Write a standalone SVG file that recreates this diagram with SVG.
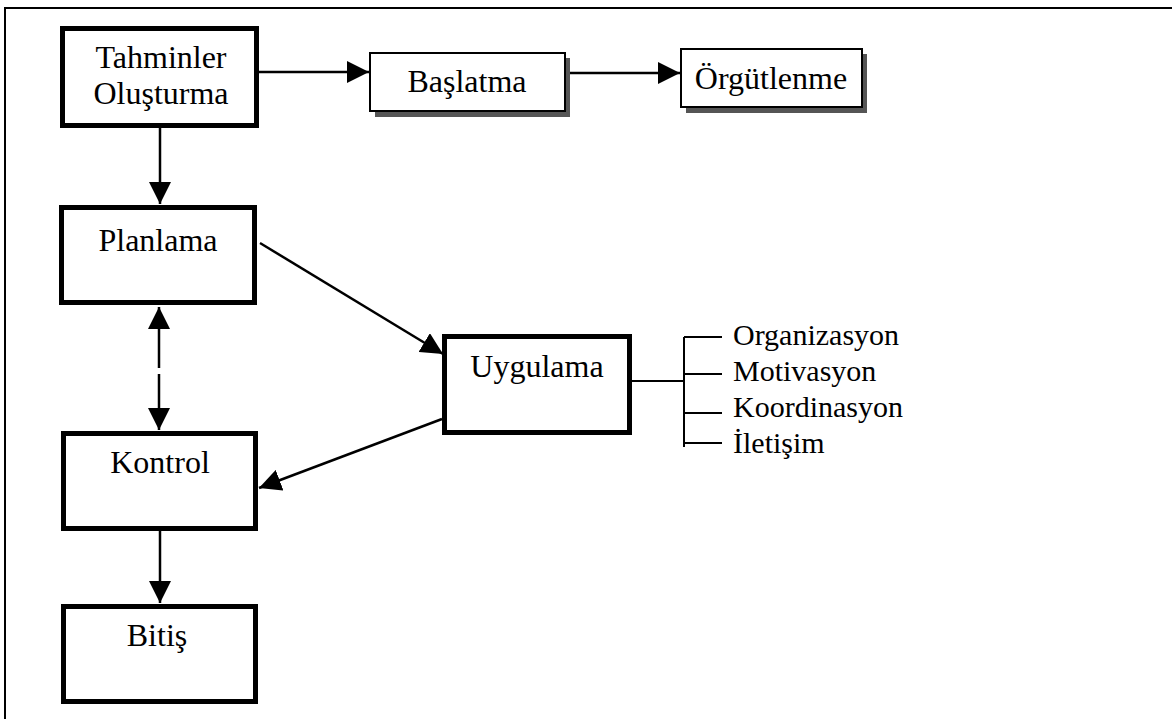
<svg xmlns="http://www.w3.org/2000/svg" width="1172" height="719" viewBox="0 0 1172 719">
<style>
.t{font-family:"Liberation Serif","Times New Roman",serif;font-size:32px;fill:#000}
.ls{font-family:"Liberation Serif","Times New Roman",serif;font-size:30px;fill:#000}
.thick{fill:#fff;stroke:#000;stroke-width:5}
.thin{fill:#fff;stroke:#000;stroke-width:2}
.sh{fill:#555}
.c{stroke:#000;stroke-width:2.5;fill:none}
</style>
<defs>
<marker id="ah" viewBox="0 0 10 10" refX="10" refY="5" markerWidth="22" markerHeight="22" markerUnits="userSpaceOnUse" orient="auto-start-reverse">
<path d="M0,0 L10,5 L0,10 Z" fill="#000"/>
</marker>
</defs>
<rect width="1172" height="719" fill="#fff"/>
<g id="frame"><path d="M5,719 L5,8 L1172,8" stroke="#000" stroke-width="2" fill="none"/></g>
<g id="connectors">
<line class="c" x1="259" y1="72" x2="369" y2="72" marker-end="url(#ah)"/>
<line class="c" x1="565" y1="73" x2="680" y2="73" marker-end="url(#ah)"/>
<line class="c" x1="160" y1="128" x2="160" y2="204" marker-end="url(#ah)"/>
<line class="c" x1="159" y1="368" x2="159" y2="307" marker-end="url(#ah)"/>
<line class="c" x1="159" y1="374" x2="159" y2="430" marker-end="url(#ah)"/>
<line class="c" x1="260" y1="243" x2="443" y2="354" marker-end="url(#ah)"/>
<line class="c" x1="442" y1="419" x2="259" y2="488" marker-end="url(#ah)"/>
<line class="c" x1="160" y1="531" x2="160" y2="603" marker-end="url(#ah)"/>
<path d="M632,381 H684 M684,337 V447 M684,337 H722 M684,374 H722 M684,413 H722 M684,443 H722" stroke="#000" stroke-width="2" fill="none"/>
</g>
<g id="tahminler">
<rect class="thick" x="62.5" y="28.5" width="194" height="97"/>
<text class="t" x="161" y="68" text-anchor="middle">Tahminler</text>
<text class="t" x="161" y="104" text-anchor="middle">Oluşturma</text>
</g>
<g id="baslatma">
<rect class="sh" x="375" y="58" width="195" height="59"/>
<rect class="thin" x="370" y="53" width="195" height="58"/>
<text class="t" x="467" y="92" text-anchor="middle">Başlatma</text>
</g>
<g id="orgutlenme">
<rect class="sh" x="686" y="54" width="181" height="59"/>
<rect class="thin" x="681" y="49" width="181" height="58"/>
<text class="t" x="771" y="89" text-anchor="middle">Örgütlenme</text>
</g>
<g id="planlama">
<rect class="thick" x="61.5" y="207.5" width="193" height="95"/>
<text class="t" x="158" y="251" text-anchor="middle">Planlama</text>
</g>
<g id="uygulama">
<rect class="thick" x="444.5" y="336.5" width="185" height="96"/>
<text class="t" x="537" y="377" text-anchor="middle">Uygulama</text>
</g>
<g id="kontrol">
<rect class="thick" x="63.5" y="433.5" width="192" height="95"/>
<text class="t" x="160" y="473" text-anchor="middle">Kontrol</text>
</g>
<g id="bitis">
<rect class="thick" x="63.5" y="606.5" width="192" height="95"/>
<text class="t" x="157" y="646" text-anchor="middle">Bitiş</text>
</g>
<g id="list">
<text class="ls" x="733" y="345">Organizasyon</text>
<text class="ls" x="733" y="381">Motivasyon</text>
<text class="ls" x="733" y="417">Koordinasyon</text>
<text class="ls" x="733" y="453">İletişim</text>
</g>
</svg>
